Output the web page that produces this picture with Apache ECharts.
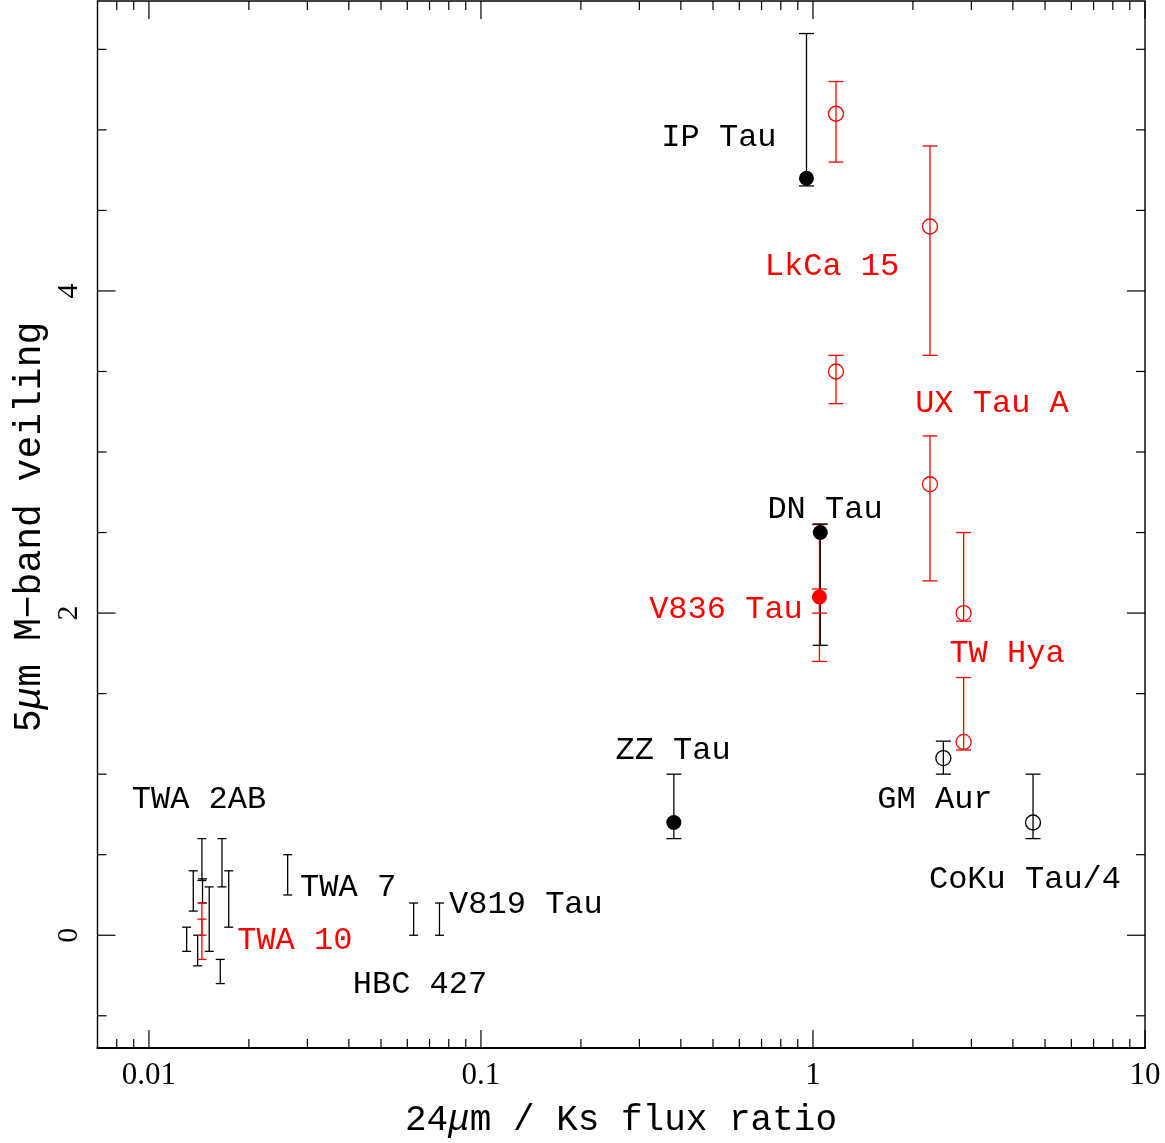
<!DOCTYPE html>
<html>
<head>
<meta charset="utf-8">
<script src="https://cdn.jsdelivr.net/npm/echarts@6/dist/echarts.min.js"></script>
<style>html,body{margin:0;padding:0;background:#fff;}#c{width:1165px;height:1143px;}</style>
</head>
<body>
<div id="c"></div>
<script>
// ---------- data ----------
const xTickValues = [0.01, 0.1, 1, 10];
const xTickLabels = ['0.01', '0.1', '1', '10'];
const xMinorTicks = [0.008, 0.009, 0.02, 0.03, 0.04, 0.05, 0.06, 0.07, 0.08, 0.09,
  0.2, 0.3, 0.4, 0.5, 0.6, 0.7, 0.8, 0.9, 2, 3, 4, 5, 6, 7, 8, 9];
const yTickValues = [0, 2, 4];
const yTickLabels = ['0', '2', '4'];
const yMinorTicks = [-0.5, 0.5, 1, 1.5, 2.5, 3, 3.5, 4.5, 5, 5.5];

// [x, y, lower, upper]
const blackFilled = [
  [0.956, 4.70, 4.652, 5.598],   // IP Tau
  [1.052, 2.50, 1.80, 2.553],    // DN Tau
  [0.381, 0.70, 0.60, 1.00]      // ZZ Tau
];
const blackOpen = [
  [2.47, 1.10, 1.00, 1.205],     // GM Aur
  [4.60, 0.70, 0.60, 1.00]       // CoKu Tau/4
];
const redOpen = [
  [1.173, 5.10, 4.80, 5.30],     // LkCa 15
  [1.173, 3.50, 3.30, 3.60],     // LkCa 15
  [2.251, 4.40, 3.60, 4.90],     // UX Tau A
  [2.251, 2.80, 2.20, 3.10],     // UX Tau A
  [2.843, 2.00, 1.95, 2.50],     // TW Hya
  [2.843, 1.20, 1.15, 1.60]      // TW Hya
];
const redFilled = [
  [1.046, 2.10, 2.00, 2.15]      // V836 Tau
];
// error bars drawn without markers: [x, lower, upper]
const blackBars = [
  [0.01360, 0.15, 0.40],
  [0.01444, 0.34, 0.60],
  [0.01450, 0.20, 0.35],
  [0.01519, -0.10, 0.30],
  [0.01660, 0.30, 0.60],
  [0.01739, 0.05, 0.40],
  [0.01299, -0.10, 0.05],
  [0.01402, -0.19, 0.00],
  [0.01640, -0.30, -0.15],
  [0.02617, 0.25, 0.50],
  [0.0627, 0.00, 0.20],
  [0.0750, 0.00, 0.20]
];
const redBars = [
  [0.01444, -0.15, 0.20],
  [0.01444, 0.00, 0.10],
  [1.046, 1.70, 2.55]
];

const labelNames = ['IP Tau', 'LkCa 15', 'UX Tau A', 'DN Tau', 'V836 Tau', 'TW Hya', 'ZZ Tau',
  'GM Aur', 'CoKu Tau/4', 'TWA 2AB', 'TWA 7', 'V819 Tau', 'TWA 10', 'HBC 427'];
const labelX = [0.521, 1.141, 3.46, 1.087, 0.547, 3.84, 0.379, 2.33, 4.35, 0.01415, 0.0398, 0.1366, 0.0275, 0.0655];
const labelY = [4.963, 4.161, 3.311, 2.658, 2.037, 1.764, 1.161, 0.857, 0.360, 0.857, 0.311, 0.205, -0.019, -0.292];
const labelColors = ['#000', '#f00', '#f00', '#000', '#f00', '#f00', '#000', '#000', '#000', '#000', '#000', '#000', '#f00', '#000'];

const xTitle = '24μm / Ks flux ratio';
const yTitle = '5μm M−band veiling';

// ---------- chart ----------
const X_MIN = 0.007, X_MAX = 10, Y_MIN = -0.7, Y_MAX = 5.8;
const RED = '#ff0000';
const chart = echarts.init(document.getElementById('c'));

function errItem(color, capW) {
  return function (params, api) {
    const x = api.value(0), lo = api.value(1), hi = api.value(2);
    const a = api.coord([x, hi]), b = api.coord([x, lo]);
    const st = { stroke: color, lineWidth: 1.3 };
    return {
      type: 'group', children: [
        { type: 'line', shape: { x1: a[0], y1: a[1], x2: b[0], y2: b[1] }, style: st },
        { type: 'line', shape: { x1: a[0] - capW / 2, y1: a[1], x2: a[0] + capW / 2, y2: a[1] }, style: st },
        { type: 'line', shape: { x1: b[0] - capW / 2, y1: b[1], x2: b[0] + capW / 2, y2: b[1] }, style: st }
      ]
    };
  };
}
function barsOf(pts) { return pts.map(p => [p[0], p[2], p[3]]); }
function ptsOf(pts) { return pts.map(p => [p[0], p[1]]); }

function tickRender(params, api) {
  const ch = [];
  const st = { stroke: '#000', lineWidth: 1.2 };
  function xt(v, len) {
    const b = api.coord([v, Y_MIN]), t = api.coord([v, Y_MAX]);
    ch.push({ type: 'line', shape: { x1: b[0], y1: b[1], x2: b[0], y2: b[1] - len }, style: st });
    ch.push({ type: 'line', shape: { x1: t[0], y1: t[1], x2: t[0], y2: t[1] + len }, style: st });
  }
  function yt(v, len) {
    const l = api.coord([X_MIN, v]), r = api.coord([X_MAX, v]);
    ch.push({ type: 'line', shape: { x1: l[0], y1: l[1], x2: l[0] + len, y2: l[1] }, style: st });
    ch.push({ type: 'line', shape: { x1: r[0], y1: r[1], x2: r[0] - len, y2: r[1] }, style: st });
  }
  xTickValues.forEach(v => xt(v, 18));
  xMinorTicks.forEach(v => xt(v, 9));
  yTickValues.forEach(v => yt(v, 18));
  yMinorTicks.forEach(v => yt(v, 9));
  return { type: 'group', children: ch };
}

function labelRender(params, api) {
  const i = params.dataIndex;
  const p = api.coord([api.value(0), api.value(1)]);
  return {
    type: 'text', x: p[0], y: p[1] + 2,
    style: {
      text: labelNames[i], fill: labelColors[i],
      font: '32px "Liberation Mono"', align: 'center', verticalAlign: 'middle'
    }
  };
}

function xLabelFmt(v) {
  for (let i = 0; i < xTickValues.length; i++) {
    if (Math.abs(Math.log10(v) - Math.log10(xTickValues[i])) < 1e-6) return xTickLabels[i];
  }
  return '';
}

const option = {
  backgroundColor: '#fff',
  animation: false,
  grid: { left: 97.5, top: 1, width: 1047.5, height: 1047, show: true, borderColor: '#000', borderWidth: 1.4, backgroundColor: 'transparent' },
  xAxis: {
    type: 'log', logBase: 10, min: X_MIN, max: X_MAX,
    axisLine: { show: true, onZero: false, lineStyle: { color: '#000', width: 2.2 } },
    axisTick: { show: false }, splitLine: { show: false }, minorTick: { show: false },
    axisLabel: { formatter: xLabelFmt, color: '#000', fontFamily: 'Liberation Serif', fontSize: 31, margin: 12 }
  },
  yAxis: {
    type: 'value', min: Y_MIN, max: Y_MAX,
    axisLine: { show: false, onZero: false }, axisTick: { show: false }, splitLine: { show: false },
    axisLabel: {
      customValues: yTickValues, rotate: 90, color: '#000', fontFamily: 'Liberation Serif', fontSize: 30, margin: 13,
      formatter: v => { const i = yTickValues.indexOf(v); return i >= 0 ? yTickLabels[i] : ''; }
    }
  },
  graphic: [
    {
      type: 'text', x: 621, y: 1120,
      style: {
        text: '{n|24}{i|μ}{n|m / Ks flux ratio}', align: 'center', verticalAlign: 'middle',
        rich: {
          n: { font: '36px "Liberation Mono"', fill: '#000' },
          i: { font: 'italic 36px "Liberation Mono"', fill: '#000' }
        }
      }
    },
    {
      type: 'text', x: 30, y: 527, rotation: Math.PI / 2,
      style: {
        text: '{n|5}{i|μ}{n|m M−band veiling}', align: 'center', verticalAlign: 'middle',
        rich: {
          n: { font: '38px "Liberation Mono"', fill: '#000' },
          i: { font: 'italic 38px "Liberation Mono"', fill: '#000' }
        }
      }
    }
  ],
  series: [
    { type: 'custom', renderItem: tickRender, data: [[1, 0]], clip: false, silent: true, z: 1 },
    { type: 'custom', renderItem: errItem(RED, 15), data: redBars.slice(2), z: 2 },
    { type: 'custom', renderItem: errItem('#000', 9), data: blackBars, z: 3 },
    { type: 'custom', renderItem: errItem(RED, 9), data: redBars.slice(0, 2), z: 3 },
    { type: 'custom', renderItem: errItem('#000', 15), data: barsOf(blackFilled).concat(barsOf(blackOpen)), z: 3 },
    { type: 'custom', renderItem: errItem(RED, 15), data: barsOf(redOpen).concat(barsOf(redFilled)), z: 3 },
    { type: 'scatter', data: ptsOf(redFilled), symbol: 'circle', symbolSize: 15, itemStyle: { color: RED, opacity: 1 }, z: 4 },
    { type: 'scatter', data: ptsOf(blackFilled), symbol: 'circle', symbolSize: 15, itemStyle: { color: '#000', opacity: 1 }, z: 5 },
    { type: 'scatter', data: ptsOf(blackOpen), symbol: 'circle', symbolSize: 15, itemStyle: { color: 'rgba(0,0,0,0)', borderColor: '#000', borderWidth: 1.3, opacity: 1 }, z: 5 },
    { type: 'scatter', data: ptsOf(redOpen), symbol: 'circle', symbolSize: 15, itemStyle: { color: 'rgba(0,0,0,0)', borderColor: RED, borderWidth: 1.3, opacity: 1 }, z: 5 },
    { type: 'custom', renderItem: labelRender, data: labelX.map((x, i) => [x, labelY[i]]), clip: false, silent: true, z: 6 }
  ]
};
chart.setOption(option);
</script>
</body>
</html>
